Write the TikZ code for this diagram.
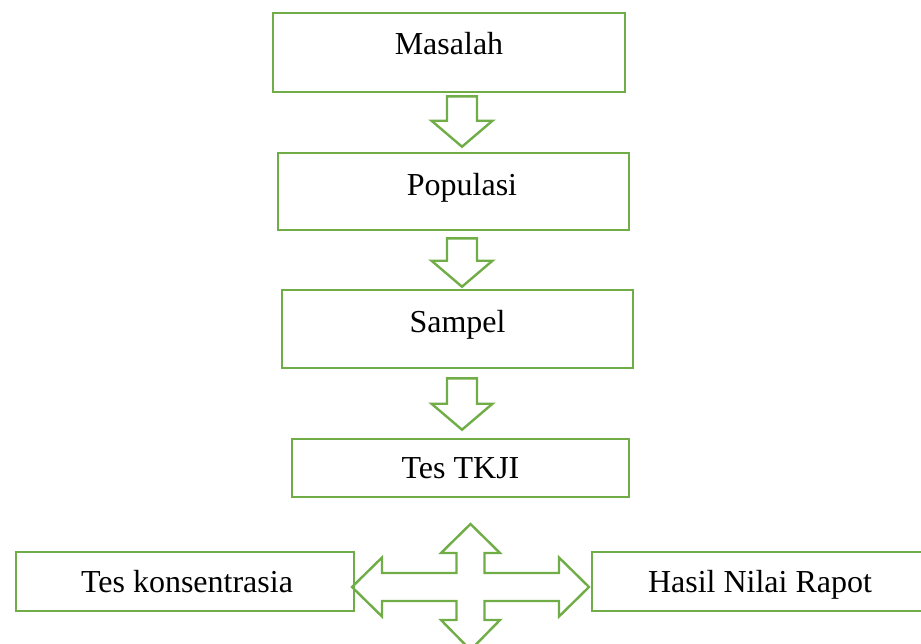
\documentclass[tikz,border=0pt]{standalone}
\usepackage{fontspec}
\setmainfont{Liberation Serif}
\usetikzlibrary{calc}
\definecolor{flowGreen}{HTML}{70AD47}

\begin{document}
\begin{tikzpicture}[
    x=0.5pt, y=-0.5pt,
    flowbox/.style={rectangle, draw=flowGreen, line width=1.3pt, fill=white,
                 font=\fontsize{16}{19}\selectfont, inner sep=0pt,
                 text height=10.5pt, text depth=0pt},
    blockarrow/.style={draw=flowGreen, line width=1.2pt, line join=miter},
  ]
    \useasboundingbox (0,0) rectangle (921,643);

    \node[flowbox, minimum width=176pt, minimum height=39.5pt, text depth=9pt] (masalah) at (449,52.5) {Masalah};
    \node[flowbox, minimum width=175.5pt, minimum height=38.5pt, text depth=7pt] (populasi) at (453.5,191.5) {\hspace{8.5pt}Populasi};
    \node[flowbox, minimum width=175.5pt, minimum height=39pt, text depth=7.5pt] (sampel) at (457.5,329) {Sampel};
    \node[flowbox, minimum width=168.5pt, minimum height=29pt] (tkji) at (460.5,468) {Tes TKJI};
    \node[flowbox, minimum width=169pt, minimum height=29.5pt] (konsentrasi) at (185,581.5) {\hspace{2pt}Tes konsentrasia};
    \node[flowbox, minimum width=172pt, minimum height=29.5pt] (rapot) at (764,581.5) {Hasil Nilai Rapot\kern4pt};

    % block arrows between the boxes
    \coordinate (axis) at (462,0);
    \foreach \a/\b/\ga/\gb in {masalah/populasi/3/5, populasi/sampel/7/2, sampel/tkji/9/8}{
      \draw[blockarrow] ($(axis |- \a.south)+(-15,\ga)$) -- ($(axis |- \a.south)+(15,\ga)$)
        -- ($(axis |- \b.north)+(15,-26-\gb)$) -- ($(axis |- \b.north)+(30.5,-26-\gb)$)
        -- ($(axis |- \b.north)+(0,-\gb)$)
        -- ($(axis |- \b.north)+(-30.5,-26-\gb)$) -- ($(axis |- \b.north)+(-15,-26-\gb)$) -- cycle;
    }

    % four-way arrow
    \coordinate (hub) at (470.5,587);
    \draw[blockarrow, shift={(hub)}] (0,-63) -- (29.5,-34) -- (14,-34) -- (14,-14) -- (88.5,-14)
      -- (88.5,-29.5) -- (118.5,0) -- (88.5,29.5) -- (88.5,14) -- (14,14) -- (14,33)
      -- (29.5,33) -- (0,63) -- (-29.5,33) -- (-14,33) -- (-14,14) -- (-88.5,14)
      -- (-88.5,29.5) -- (-118.5,0) -- (-88.5,-29.5) -- (-88.5,-14) -- (-14,-14)
      -- (-14,-34) -- (-29.5,-34) -- cycle;
  \end{tikzpicture}
\end{document}
